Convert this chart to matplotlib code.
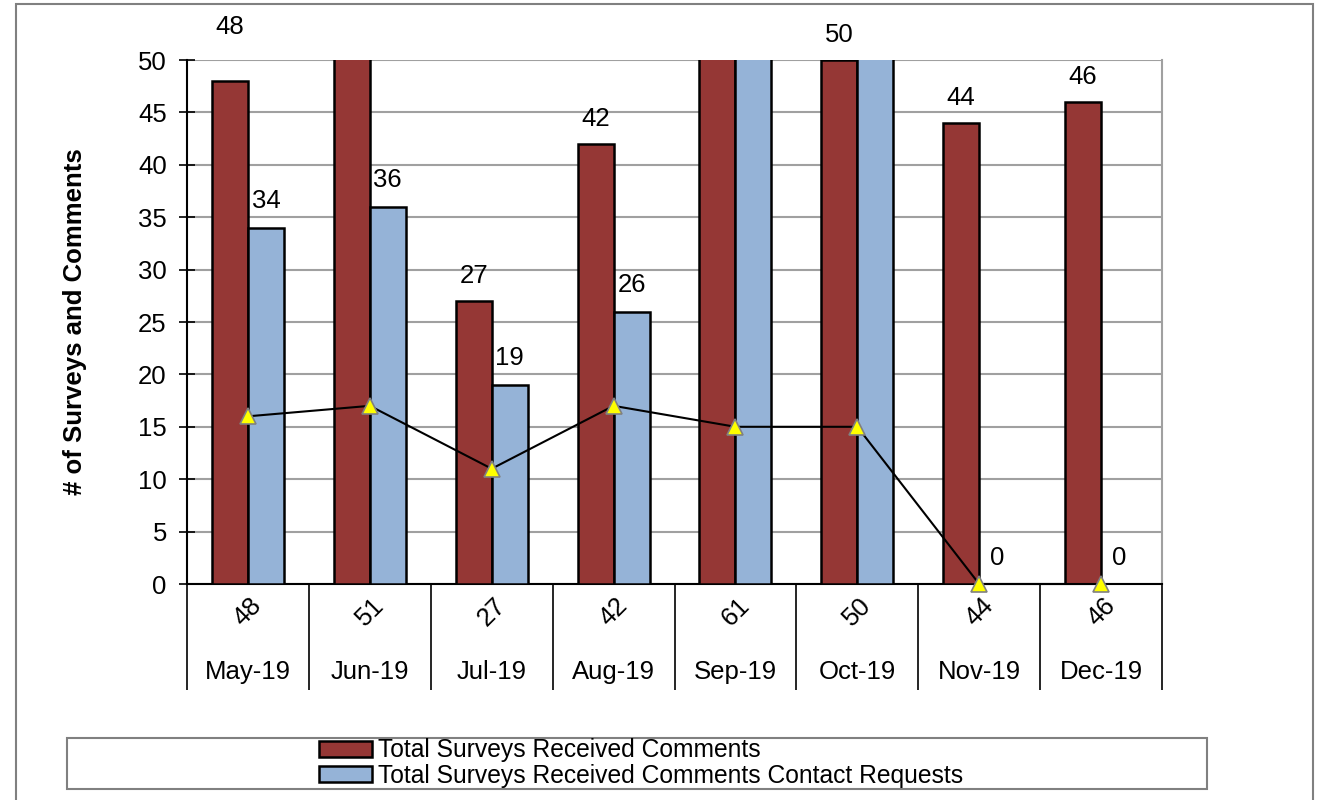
import numpy as np
import matplotlib
matplotlib.use('Agg')
import matplotlib.pyplot as plt
from matplotlib.patches import Rectangle
import matplotlib.transforms as mtransforms

plt.rcParams['font.family'] = ['Liberation Sans', 'DejaVu Sans']

months = ['May-19', 'Jun-19', 'Jul-19', 'Aug-19', 'Sep-19', 'Oct-19', 'Nov-19', 'Dec-19']
totals = ['48', '51', '27', '42', '61', '50', '44', '46']
comments = [48, 51, 27, 42, 61, 50, 44, 46]
contact_requests = [34, 36, 19, 26, 52, 53, 0, 0]
line_values = [16, 17, 11, 17, 15, 15, 0, 0]
# extra lift (points) for red labels, May label sits higher in the original
red_label_lift = [39, 18, 18, 18, 18, 18, 18, 18]

red = '#953735'
blue = '#95B3D7'
fs = 18.5

fig = plt.figure(figsize=(13.19, 8), dpi=100)
ax = fig.add_axes([187 / 1319, 1 - 584 / 800, 975 / 1319, 524 / 800])

x = np.arange(len(months))
w = 0.295
ax.bar(x, comments, width=-w, align='edge', color=red, edgecolor='black', linewidth=1.8,
       label='Total Surveys Received Comments', zorder=3)
ax.bar(x, contact_requests, width=w, align='edge', color=blue, edgecolor='black', linewidth=1.8,
       label='Total Surveys Received Comments Contact Requests', zorder=3)
ax.plot(x, line_values, color='black', linewidth=1.5, marker='^', markersize=11,
        markerfacecolor='#FFFF00', markeredgecolor='#808080', markeredgewidth=1.2,
        zorder=5, clip_on=False)

for i in range(len(months)):
    if comments[i] <= 50:
        ax.annotate(str(comments[i]), (x[i] - w / 2, comments[i]), xytext=(0, red_label_lift[i]),
                    textcoords='offset points', ha='center', va='center', fontsize=fs,
                    annotation_clip=False)
    if contact_requests[i] <= 50:
        ax.annotate(str(contact_requests[i]), (x[i] + w / 2, contact_requests[i]), xytext=(0, 19),
                    textcoords='offset points', ha='center', va='center', fontsize=fs,
                    annotation_clip=False)

ax.set_xlim(-0.5, len(months) - 0.5)
ax.set_ylim(0, 50)
ax.set_yticks(range(0, 51, 5))
ax.tick_params(axis='y', direction='inout', length=11, width=1.2, labelsize=fs, pad=9)
ax.yaxis.grid(True, color='#A0A0A0', linewidth=1.5, zorder=0)
ax.set_axisbelow(True)

ax.set_xticks([])
ax.set_xticks(np.arange(len(months) + 1) - 0.5, minor=True)
ax.tick_params(axis='x', which='minor', direction='out', length=76, width=1.2, labelbottom=False)

trans = mtransforms.blended_transform_factory(ax.transData, ax.transAxes)
for i in range(len(months)):
    ax.text(x[i], -0.053, totals[i], transform=trans, rotation=45, ha='center', va='center', fontsize=fs)
    ax.text(x[i], -0.168, months[i], transform=trans, ha='center', va='center', fontsize=fs)

ax.spines['top'].set_visible(False)
ax.spines['right'].set_color('#A0A0A0')
ax.spines['right'].set_linewidth(1.5)
ax.spines['left'].set_linewidth(1.5)
ax.spines['bottom'].set_linewidth(1.5)

ax.set_ylabel('# of Surveys and Comments', fontsize=fs, fontweight='bold')
ax.yaxis.set_label_coords(-0.103, 0.5)

# legend box and entries
fig.patches.append(Rectangle((67 / 1319, 1 - 789 / 800), 1140 / 1319, 51 / 800, transform=fig.transFigure,
                             facecolor='none', edgecolor='#808080', linewidth=1.5))
fig.legend(loc='center', bbox_to_anchor=(641 / 1319, 1 - 763 / 800), frameon=False, fontsize=17.7,
           handlelength=2.15, handleheight=0.6, handletextpad=0.25, labelspacing=0.05,
           borderpad=0, borderaxespad=0)

# outer chart border
fig.patches.append(Rectangle((16 / 1319, -0.02), 1297 / 1319, 1.02 - 4 / 800, transform=fig.transFigure,
                             facecolor='none', edgecolor='#808080', linewidth=1.5))

fig.savefig('out.png', dpi=100)
